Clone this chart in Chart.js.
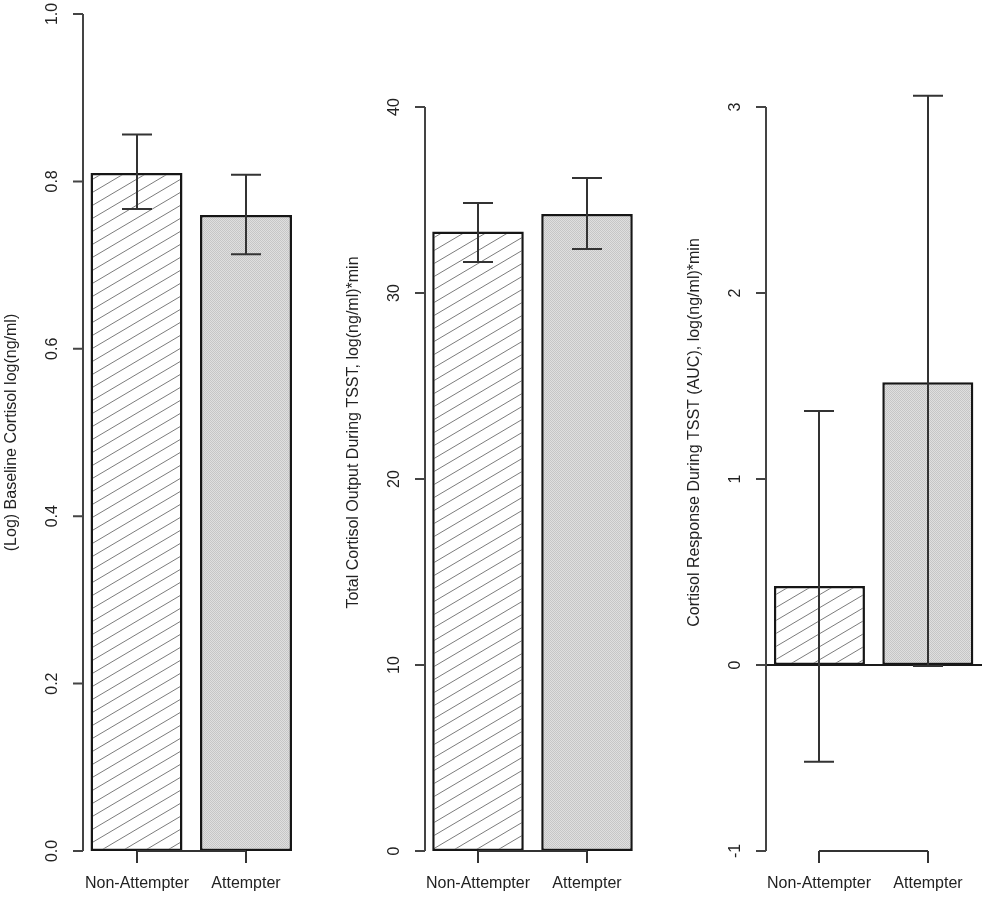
<!DOCTYPE html>
<html>
<head>
<meta charset="utf-8">
<script src="https://cdn.jsdelivr.net/npm/chart.js@4.4.1/dist/chart.umd.min.js"></script>
<style>
  html, body { margin: 0; padding: 0; background: #ffffff; }
  #wrap { position: relative; width: 988px; height: 903px; overflow: hidden; }
  canvas { position: absolute; top: 0; }
</style>
</head>
<body>
<div id="wrap">
  <canvas id="c1" width="330" height="903" style="left:0px;width:330px;height:903px"></canvas>
  <canvas id="c2" width="330" height="903" style="left:330px;width:330px;height:903px"></canvas>
  <canvas id="c3" width="328" height="903" style="left:660px;width:328px;height:903px"></canvas>
</div>
<script>
// ---------------- data ----------------
const categories = ['Non-Attempter', 'Attempter'];

const baselineMean  = [0.810, 0.760];
const baselineLower = [0.767, 0.713];
const baselineUpper = [0.856, 0.808];
const baselineTicks = [0, 0.2, 0.4, 0.6, 0.8, 1.0];
const baselineTickLabels = ['0.0', '0.2', '0.4', '0.6', '0.8', '1.0'];
const baselineTitle = '(Log) Baseline Cortisol log(ng/ml)';

const totalMean  = [33.30, 34.25];
const totalLower = [31.67, 32.37];
const totalUpper = [34.84, 36.18];
const totalTicks = [0, 10, 20, 30, 40];
const totalTickLabels = ['0', '10', '20', '30', '40'];
const totalTitle = 'Total Cortisol Output During TSST, log(ng/ml)*min';

const responseMean  = [0.425, 1.52];
const responseLower = [-0.52, -0.005];
const responseUpper = [1.365, 3.06];
const responseTicks = [-1, 0, 1, 2, 3];
const responseTickLabels = ['-1', '0', '1', '2', '3'];
const responseTitle = 'Cortisol Response During TSST (AUC), log(ng/ml)*min';

// ---------------- patterns ----------------
function hatchPattern() {
  const W = 22, H = 13;
  const c = document.createElement('canvas');
  c.width = W; c.height = H;
  const g = c.getContext('2d');
  g.fillStyle = '#ffffff';
  g.fillRect(0, 0, W, H);
  g.strokeStyle = '#7c7c7c';
  g.lineWidth = 1;
  g.beginPath();
  for (let k = -1; k <= 1; k++) {
    g.moveTo(-W, 2 * H + k * H);
    g.lineTo(2 * W, -H + k * H);
  }
  g.stroke();
  return g.createPattern(c, 'repeat');
}
function stipplePattern() {
  const c = document.createElement('canvas');
  c.width = 2; c.height = 2;
  const g = c.getContext('2d');
  g.fillStyle = '#dfdfdf';
  g.fillRect(0, 0, 2, 2);
  g.fillStyle = '#c6c6c6';
  g.fillRect(0, 0, 1, 1);
  g.fillRect(1, 1, 1, 1);
  return g.createPattern(c, 'repeat');
}

const FONT = "'Liberation Sans', Arial, Helvetica, sans-serif";
const INK = '#222222';

const decorPlugin = {
  id: 'decor',
  afterDatasetsDraw(chart, args, o) {
    const ctx = chart.ctx;
    const ys = chart.scales.y;
    const ca = chart.chartArea;
    const meta = chart.getDatasetMeta(0);
    const ax = Math.round(ca.left) + 1;

    ctx.save();
    // zero reference line (panel 3)
    if (o.zeroLine) {
      const y0 = Math.round(ys.getPixelForValue(0));
      ctx.strokeStyle = '#1a1a1a';
      ctx.lineWidth = 2;
      ctx.beginPath();
      ctx.moveTo(ax - 10, y0);
      ctx.lineTo(ca.right, y0);
      ctx.stroke();
    }

    // error bars
    ctx.strokeStyle = '#333333';
    ctx.lineWidth = 2;
    meta.data.forEach((bar, i) => {
      const xc = Math.round(bar.x);
      const yh = ys.getPixelForValue(o.upper[i]);
      const yl = ys.getPixelForValue(o.lower[i]);
      ctx.beginPath();
      ctx.moveTo(xc, yh); ctx.lineTo(xc, yl);
      ctx.moveTo(xc - 15, yh); ctx.lineTo(xc + 15, yh);
      ctx.moveTo(xc - 15, yl); ctx.lineTo(xc + 15, yl);
      ctx.stroke();
    });

    // y axis
    const t0 = ys.getPixelForValue(o.ticks[0]);
    const t1 = ys.getPixelForValue(o.ticks[o.ticks.length - 1]);
    ctx.strokeStyle = '#444444';
    ctx.lineWidth = 2;
    ctx.beginPath();
    ctx.moveTo(ax, t0); ctx.lineTo(ax, t1);
    o.ticks.forEach(v => {
      const p = ys.getPixelForValue(v);
      ctx.moveTo(ax - 10, p); ctx.lineTo(ax, p);
    });
    ctx.stroke();

    ctx.fillStyle = INK;
    ctx.font = '16px ' + FONT;
    ctx.textAlign = 'center';
    ctx.textBaseline = 'middle';
    o.ticks.forEach((v, i) => {
      const p = ys.getPixelForValue(v);
      ctx.save();
      ctx.translate(ax - 30, p);
      ctx.rotate(-Math.PI / 2);
      ctx.fillText(o.tickLabels[i], 0, 0);
      ctx.restore();
    });

    // y title
    ctx.font = '16px ' + FONT;
    ctx.save();
    ctx.translate(ax - 71, (ca.top + ca.bottom) / 2);
    ctx.rotate(-Math.PI / 2);
    ctx.fillText(o.title, 0, 0);
    ctx.restore();

    // x axis
    const xb = Math.round(ys.getPixelForValue(o.ticks[0]));
    const xs = meta.data.map(b => Math.round(b.x));
    ctx.strokeStyle = '#333333';
    ctx.lineWidth = 2;
    ctx.beginPath();
    ctx.moveTo(xs[0], xb); ctx.lineTo(xs[xs.length - 1], xb);
    xs.forEach(x => { ctx.moveTo(x, xb); ctx.lineTo(x, xb + 12); });
    ctx.stroke();

    ctx.fillStyle = INK;
    ctx.font = '16px ' + FONT;
    ctx.textBaseline = 'middle';
    chart.data.labels.forEach((lab, i) => {
      ctx.fillText(lab, xs[i], xb + 33);
    });
    ctx.restore();
  }
};

function makePanel(id, means, lower, upper, ticks, tickLabels, title, min, max, padLeft, padRight, zeroLine) {
  const ctx = document.getElementById(id).getContext('2d');
  return new Chart(ctx, {
    type: 'bar',
    data: {
      labels: categories,
      datasets: [{
        data: means,
        backgroundColor: [hatchPattern(), stipplePattern()],
        borderColor: '#161616',
        borderWidth: 2.5,
        borderSkipped: false,
        barPercentage: 0.84,
        categoryPercentage: 1.0
      }]
    },
    options: {
      responsive: false,
      animation: false,
      events: [],
      layout: { padding: { left: padLeft, right: padRight, top: 14, bottom: 52 } },
      plugins: {
        legend: { display: false },
        tooltip: { enabled: false },
        decor: { lower, upper, ticks, tickLabels, title, zeroLine }
      },
      scales: {
        x: { type: 'category', display: false, offset: true },
        y: { type: 'linear', display: false, min, max }
      }
    },
    plugins: [decorPlugin]
  });
}

makePanel('c1', baselineMean, baselineLower, baselineUpper, baselineTicks, baselineTickLabels, baselineTitle, 0, 1.0, 81.75, 29.25, false);
makePanel('c2', totalMean, totalLower, totalUpper, totalTicks, totalTickLabels, totalTitle, 0, 45, 93.5, 18.5, false);
makePanel('c3', responseMean, responseLower, responseUpper, responseTicks, responseTickLabels, responseTitle, -1, 3.5, 105.25, 6, true);
</script>
</body>
</html>
